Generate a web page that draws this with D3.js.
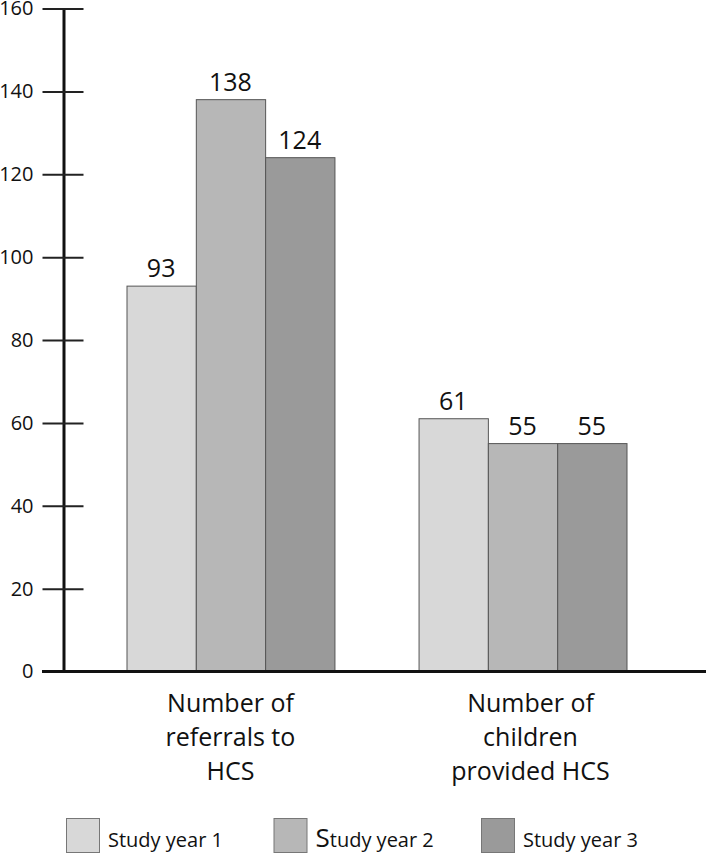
<!DOCTYPE html>
<html>
<head>
<meta charset="utf-8">
<script src="https://cdn.jsdelivr.net/npm/d3@7"></script>
<style>
  body { margin: 0; background: #fff; }
  svg { font-family: "Open Sans", sans-serif; }
</style>
</head>
<body>
<svg id="chart" width="709" height="854"></svg>
<script>
var categories = ["referrals", "children"];
var categoryLines = [["Number of", "referrals to", "HCS"], ["Number of", "children", "provided HCS"]];
var years = ["Study year 1", "Study year 2", "Study year 3"];
var year1 = [93, 61];
var year2 = [138, 55];
var year3 = [124, 55];
var yTicks = [0, 20, 40, 60, 80, 100, 120, 140, 160];

var series = [year1, year2, year3];
var color = d3.scaleOrdinal(years, ["#d8d8d8", "#b7b7b7", "#9a9a9a"]);

var svg = d3.select("#chart");

var y = d3.scaleLinear().domain([0, 160]).range([671.5, 8.5]);
var x0 = d3.scaleBand().domain(categories).range([126.5, 626.5]).paddingInner(0.288).paddingOuter(0);
var x1 = d3.scaleBand().domain(years).range([0, x0.bandwidth()]);

// bars
var groups = svg.selectAll(".group").data(categories).enter().append("g")
    .attr("class", "group")
    .attr("transform", function (d) { return "translate(" + x0(d) + ",0)"; });

groups.selectAll("rect").data(function (d, i) {
    return years.map(function (yr, j) { return {year: yr, value: series[j][i]}; });
}).enter().append("rect")
    .attr("x", function (d) { return x1(d.year) + 0.5; })
    .attr("y", function (d) { return y(d.value); })
    .attr("width", x1.bandwidth())
    .attr("height", function (d) { return y(0) - y(d.value); })
    .attr("fill", function (d) { return color(d.year); })
    .attr("stroke", "#555")
    .attr("stroke-width", 1);

groups.selectAll(".val").data(function (d, i) {
    return years.map(function (yr, j) { return {year: yr, value: series[j][i]}; });
}).enter().append("text")
    .attr("class", "val")
    .attr("x", function (d) { return x1(d.year) + x1.bandwidth() / 2; })
    .attr("y", function (d) { return y(d.value) - 9; })
    .attr("text-anchor", "middle")
    .attr("font-size", 25)
    .attr("fill", "#111")
    .text(function (d) { return d; }.call ? function (d) { return d.value; } : null);

// y axis
var yAxis = d3.axisLeft(y).tickValues(yTicks).tickSizeInner(21).tickSizeOuter(0).tickPadding(9);
var ga = svg.append("g").attr("transform", "translate(63.5,0)").call(yAxis);
ga.select(".domain").attr("stroke", "#111").attr("stroke-width", 3);
ga.selectAll(".tick line").attr("x1", 20).attr("stroke", "#222").attr("stroke-width", 2);
ga.selectAll(".tick text").attr("font-size", 20).attr("font-family", "Open Sans").attr("fill", "#111");

// x baseline
svg.append("line")
    .attr("x1", 42).attr("x2", 706)
    .attr("y1", y(0)).attr("y2", y(0))
    .attr("stroke", "#111").attr("stroke-width", 3);

// category labels
var catLabels = svg.selectAll(".cat").data(categories).enter().append("text")
    .attr("class", "cat")
    .attr("text-anchor", "middle")
    .attr("font-size", 25)
    .attr("fill", "#111");
catLabels.each(function (d, i) {
    var t = d3.select(this);
    categoryLines[i].forEach(function (line, k) {
        t.append("tspan")
            .attr("x", x0(d) + x0.bandwidth() / 2 + (i === 1 ? 8 : 0))
            .attr("y", 711.5 + k * 34.3)
            .text(line);
    });
});

// legend
var legend = svg.selectAll(".legend").data(years).enter().append("g")
    .attr("class", "legend")
    .attr("transform", function (d, i) { return "translate(" + (66 + i * 207.5) + ",818)"; });

legend.append("rect")
    .attr("x", 0.5).attr("y", 0.5)
    .attr("width", 33).attr("height", 34)
    .attr("fill", function (d) { return color(d); })
    .attr("stroke", "#777");

var capSize = [20, 26, 20];
legend.append("text")
    .attr("x", 42).attr("y", 29)
    .attr("font-size", 20)
    .attr("fill", "#111")
    .each(function (d, i) {
        var t = d3.select(this);
        t.append("tspan").attr("font-size", capSize[i]).text(d.charAt(0));
        t.append("tspan").text(d.slice(1));
    });
</script>
</body>
</html>
